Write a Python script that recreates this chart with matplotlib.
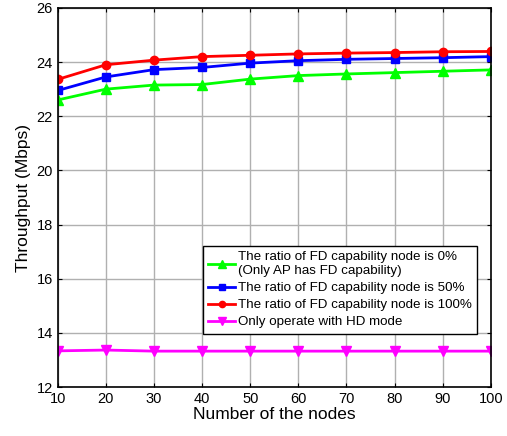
import matplotlib
matplotlib.use('Agg')
import matplotlib.pyplot as plt
import numpy as np

plt.rcParams['font.family'] = ['Liberation Sans', 'DejaVu Sans']

nodes = [10, 20, 30, 40, 50, 60, 70, 80, 90, 100]
fd_0 = [22.60, 23.00, 23.15, 23.17, 23.37, 23.50, 23.56, 23.61, 23.66, 23.71]
fd_50 = [22.95, 23.45, 23.72, 23.80, 23.96, 24.05, 24.10, 24.13, 24.16, 24.20]
fd_100 = [23.36, 23.90, 24.07, 24.20, 24.25, 24.30, 24.33, 24.35, 24.38, 24.39]
hd_only = [13.34, 13.37, 13.33, 13.33, 13.33, 13.33, 13.33, 13.33, 13.33, 13.33]

labels = ['The ratio of FD capability node is 0%\n(Only AP has FD capability)',
          'The ratio of FD capability node is 50%',
          'The ratio of FD capability node is 100%',
          'Only operate with HD mode']

fig = plt.figure(figsize=(5.07, 4.36), dpi=100)
ax = fig.add_axes([0.114, 0.112, 0.854, 0.870])

ax.plot(nodes, fd_0, color='#00ff00', marker='^', markersize=7, linewidth=2, label=labels[0])
ax.plot(nodes, fd_50, color='#0000ff', marker='s', markersize=6, linewidth=2, label=labels[1])
ax.plot(nodes, fd_100, color='#ff0000', marker='o', markersize=6, linewidth=2, label=labels[2])
ax.plot(nodes, hd_only, color='#ff00ff', marker='v', markersize=7, linewidth=2, label=labels[3])

ax.set_xlim(10, 100)
ax.set_ylim(12, 26)
ax.set_xticks(np.arange(10, 101, 10))
ax.set_yticks(np.arange(12, 27, 2))
ax.tick_params(direction='in', top=True, right=True, labelsize=10.5, length=3)
ax.grid(True, color='#b0b0b0', linewidth=1)
for s in ax.spines.values():
    s.set_linewidth(1.2)

ax.set_xlabel('Number of the nodes', fontsize=12.5, labelpad=1)
ax.set_ylabel('Throughput (Mbps)', fontsize=12.5, labelpad=4)

leg = ax.legend(loc='upper left', bbox_to_anchor=(0.335, 0.372), fontsize=9.6,
                fancybox=False, edgecolor='black', framealpha=1, borderpad=0.4,
                handlelength=2.0, handletextpad=0.2, labelspacing=0.35, borderaxespad=0,
                markerscale=0.75)
leg.get_frame().set_linewidth(1)

plt.savefig('out.png', dpi=100)
